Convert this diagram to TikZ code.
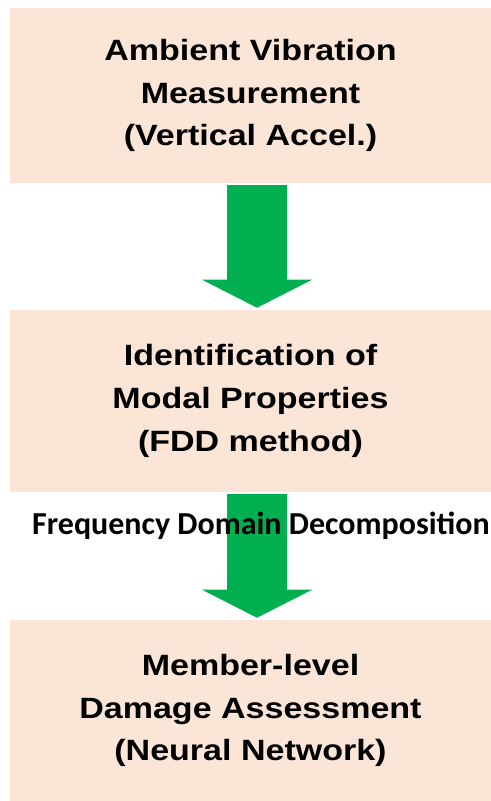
\documentclass[tikz,border=0pt]{standalone}
\usepackage{fontspec}
\newfontfamily\boxfont{Liberation Sans}[FakeStretch=1.16]
\newfontfamily\notefont{Carlito}
\usepackage{tikz}
\usetikzlibrary{positioning,arrows.meta}

\definecolor{peach}{RGB}{251,229,214}
\definecolor{flowgreen}{RGB}{0,176,80}

\begin{document}
\begin{tikzpicture}[x=0.75pt, y=-0.75pt,
    stage/.style={rectangle, fill=peach, inner sep=0pt, align=center,
        minimum width=360.75pt,
        font={\boxfont\bfseries\fontsize{22}{32}\selectfont}},
    flow/.style={draw=flowgreen, line width=45pt,
        -{Triangle[length=21pt, width=82.5pt, line width=0pt]},
        shorten <=1.5pt, shorten >=1.5pt}]

        % page frame
        \useasboundingbox (0,0) rectangle (491,801);

        % the three stages
        \node[stage, minimum height=131.25pt] (meas) at (250.5,95.5)
            {Ambient Vibration\\Measurement\\(Vertical Accel.)};
        \node[stage, minimum height=136.5pt] (modal) at (250.5,401)
            {Identification of\\Modal Properties\\(FDD method)};
        \node[stage, minimum height=135.75pt] (damage) at (250.5,710.5)
            {Member-level\\Damage Assessment\\(Neural Network)};

        % green arrows between stages (a bit right of centre)
        \foreach \a/\b in {meas/modal, modal/damage} {
            \draw[flow] ([xshift=4.9pt]\a.south) -- ([xshift=4.9pt]\b.north);
        }

        % note over the second arrow
        \node[anchor=base, inner sep=0pt,
            font={\notefont\bfseries\fontsize{24}{29}\selectfont}] (fdd)
            at (261,534) {Frequency Domain Decomposition};

    \end{tikzpicture}
\end{document}
